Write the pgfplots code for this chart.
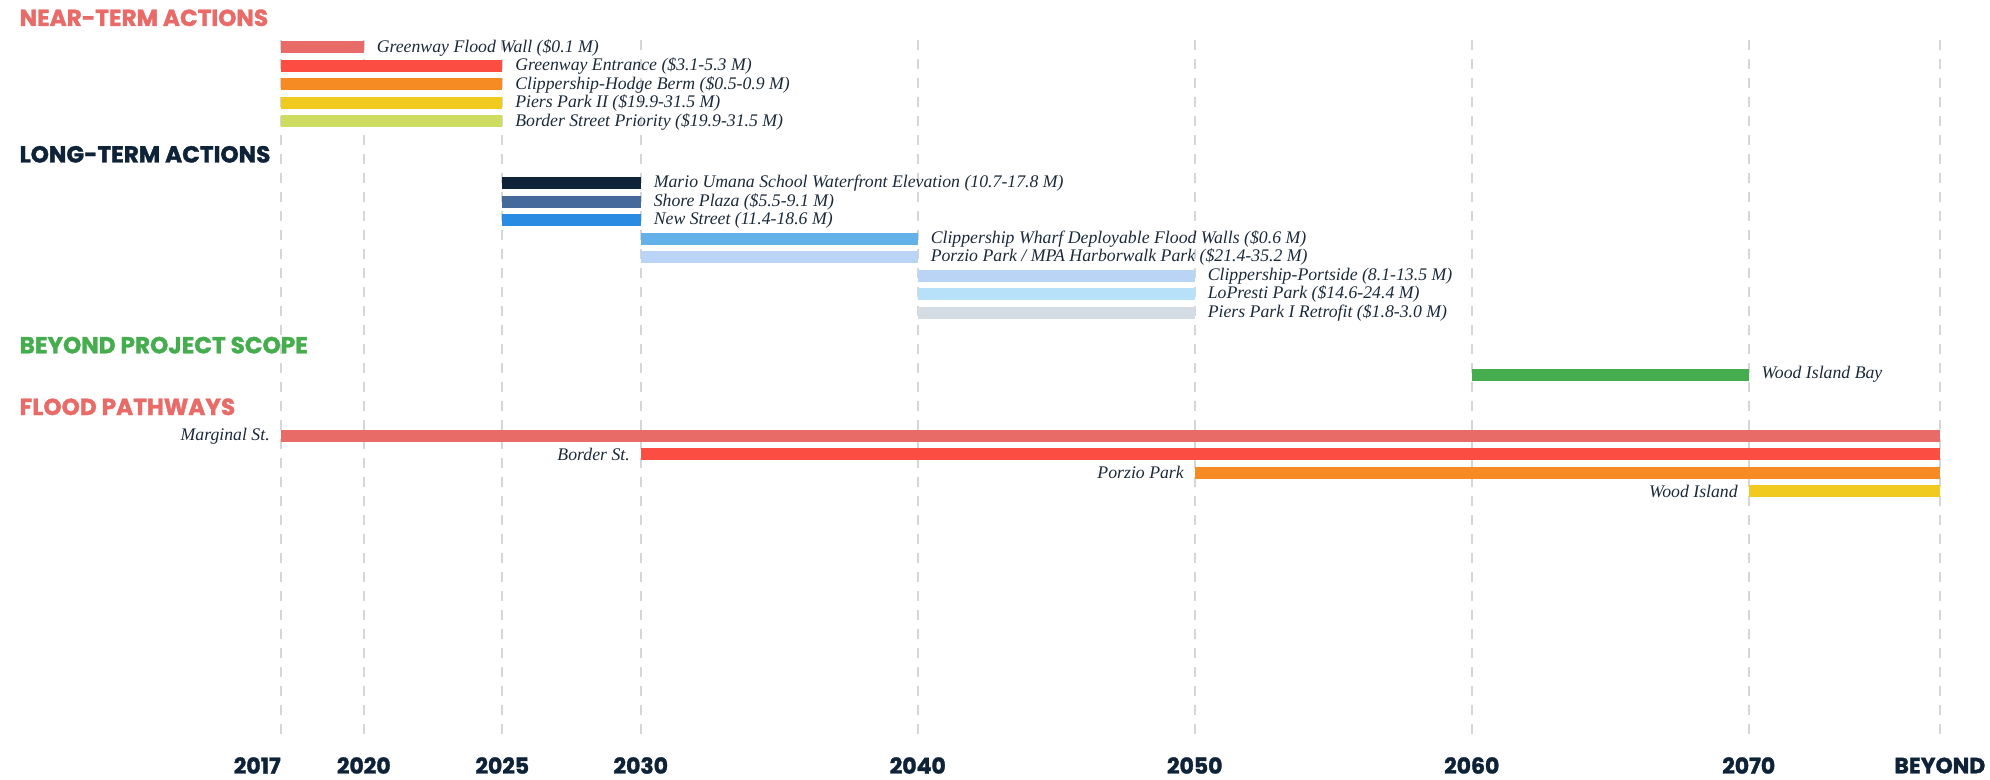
\documentclass[border=0pt]{standalone}
\usepackage{fontspec}
\setmainfont{Liberation Serif}
\newfontfamily\headfont{Poppins}[BoldFeatures={FakeBold=1.5}]
\usepackage{pgfplots}
\pgfplotsset{compat=1.18}
\definecolor{navy}{HTML}{0E2338}
\definecolor{txt}{HTML}{1B2A3A}
\definecolor{salmon}{HTML}{E86B68}
\definecolor{red1}{HTML}{FC4D42}
\definecolor{orange1}{HTML}{F78B23}
\definecolor{yellow1}{HTML}{F0CA1E}
\definecolor{lime1}{HTML}{CEDC62}
\definecolor{slate}{HTML}{44699A}
\definecolor{blue1}{HTML}{2A8BE3}
\definecolor{blue2}{HTML}{64B1E9}
\definecolor{blue3}{HTML}{B9D4F5}
\definecolor{blue4}{HTML}{B7E0F9}
\definecolor{gray1}{HTML}{D3DDE3}
\definecolor{green1}{HTML}{46AD4F}
\definecolor{gridc}{HTML}{D6D6D6}
% bar with label to the right: start, end, y, colour, label
\newcommand\rbar[5]{\addplot[draw=#4, line width=2.4mm, line cap=butt, forget plot] coordinates {(#1,#3) (#2,#3)} node[pos=1, anchor=west, xshift=1.4mm, inner sep=0pt, font=\itshape\fontsize{10.1}{12}\selectfont, text=txt] {#5};}
% bar with label to the left
\newcommand\lbar[5]{\addplot[draw=#4, line width=2.4mm, line cap=butt, forget plot] coordinates {(#1,#3) (#2,#3)} node[pos=0, anchor=east, xshift=-1.0mm, inner sep=0pt, font=\itshape\fontsize{10.1}{12}\selectfont, text=txt] {#5};}
\newcommand\gline[1]{\addplot[draw=gridc, line width=0.35mm, dash pattern=on 2mm off 1.8mm, forget plot] coordinates {(#1,40) (#1,737)};}
\begin{document}
\begin{tikzpicture}
\useasboundingbox (0,0) rectangle (398mm,155.8mm);
\begin{axis}[at={(0,0)}, anchor=south west, scale only axis,
  width=398mm, height=155.8mm,
  xmin=2006.866, xmax=2078.707, ymin=0, ymax=779, y dir=reverse,
  clip=false, axis line style={draw=none}, ytick=\empty,
  xtick={2017,2020,2025,2030,2040,2050,2060,2070,2076.9},
  xticklabels={\llap{2017},2020,2025,2030,2040,2050,2060,2070,BEYOND},
  major tick length=0pt,
  xticklabel style={anchor=center, yshift=2.7mm, inner sep=0pt,
    font=\headfont\bfseries\fontsize{12.5}{14}\selectfont, text=navy},
]
\gline{2017}\gline{2020}\gline{2025}\gline{2030}\gline{2040}
\gline{2050}\gline{2060}\gline{2070}\gline{2076.9}
% near-term actions
\rbar{2017}{2020}{47.5}{salmon}{Greenway Flood Wall (\$0.1 M)}
\rbar{2017}{2025}{66.0}{red1}{Greenway Entrance (\$3.1-5.3 M)}
\rbar{2017}{2025}{84.5}{orange1}{Clippership-Hodge Berm (\$0.5-0.9 M)}
\rbar{2017}{2025}{103.0}{yellow1}{Piers Park II (\$19.9-31.5 M)}
\rbar{2017}{2025}{121.5}{lime1}{Border Street Priority (\$19.9-31.5 M)}
% long-term actions
\rbar{2025}{2030}{183.3}{navy}{Mario Umana School Waterfront Elevation (10.7-17.8 M)}
\rbar{2025}{2030}{201.8}{slate}{Shore Plaza (\$5.5-9.1 M)}
\rbar{2025}{2030}{220.3}{blue1}{New Street (11.4-18.6 M)}
\rbar{2030}{2040}{238.8}{blue2}{Clippership Wharf Deployable Flood Walls (\$0.6 M)}
\rbar{2030}{2040}{257.3}{blue3}{Porzio Park / MPA Harborwalk Park (\$21.4-35.2 M)}
\rbar{2040}{2050}{275.8}{blue3}{Clippership-Portside (8.1-13.5 M)}
\rbar{2040}{2050}{294.3}{blue4}{LoPresti Park (\$14.6-24.4 M)}
\rbar{2040}{2050}{312.8}{gray1}{Piers Park I Retrofit (\$1.8-3.0 M)}
% beyond project scope
\rbar{2060}{2070}{374.5}{green1}{Wood Island Bay}
% flood pathways
\lbar{2017}{2076.9}{435.8}{salmon}{Marginal St.}
\lbar{2030}{2076.9}{454.3}{red1}{Border St.}
\lbar{2050}{2076.9}{472.8}{orange1}{Porzio Park}
\lbar{2070}{2076.9}{491.3}{yellow1}{Wood Island}
% section headers
\node[anchor=base west, inner sep=0pt, font=\headfont\bfseries\fontsize{13.2}{15}\selectfont, text=salmon] at (axis cs:2007.563,26) {NEAR-TERM ACTIONS};
\node[anchor=base west, inner sep=0pt, font=\headfont\bfseries\fontsize{13.2}{15}\selectfont, text=navy] at (axis cs:2007.563,162.5) {LONG-TERM ACTIONS};
\node[anchor=base west, inner sep=0pt, font=\headfont\bfseries\fontsize{13.2}{15}\selectfont, text=green1] at (axis cs:2007.563,353.3) {BEYOND PROJECT SCOPE};
\node[anchor=base west, inner sep=0pt, font=\headfont\bfseries\fontsize{13.2}{15}\selectfont, text=salmon] at (axis cs:2007.563,415) {FLOOD PATHWAYS};
\end{axis}
\end{tikzpicture}
\end{document}
